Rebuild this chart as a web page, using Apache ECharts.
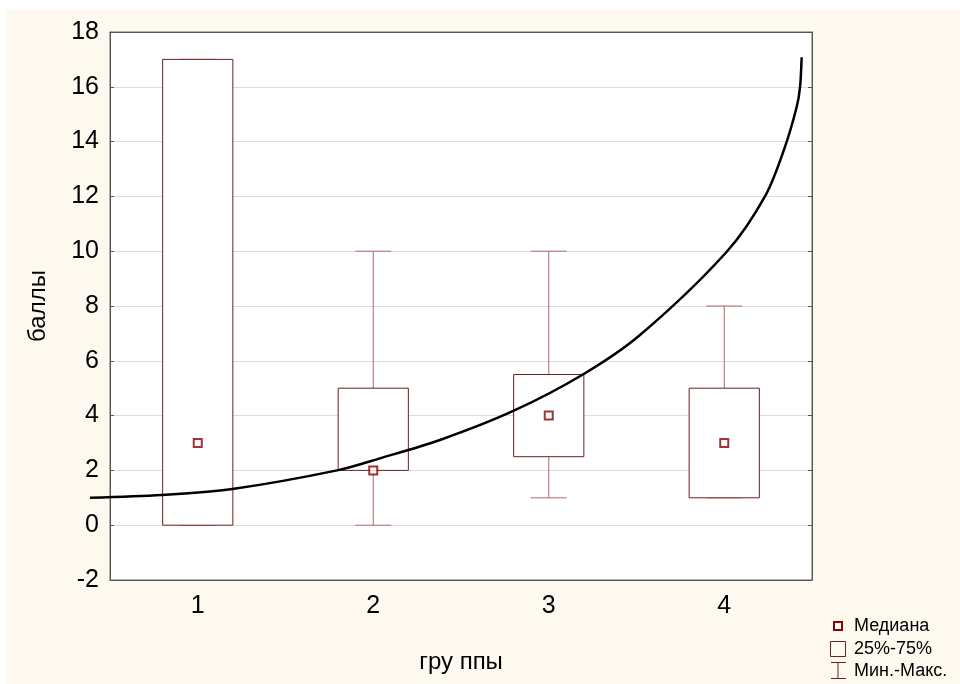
<!DOCTYPE html>
<html>
<head>
<meta charset="utf-8">
<script src="https://cdn.jsdelivr.net/npm/echarts@6/dist/echarts.min.js"></script>
<style>
html,body{margin:0;padding:0;background:#fff;}
#chart{width:960px;height:684px;}
</style>
</head>
<body>
<div id="chart"></div>
<script>
// ---- data ----
const categories = ['1', '2', '3', '4'];
const minVals    = [0, 0, 1, 1];
const q1Vals     = [0, 2, 2.5, 1];
const medianVals = [3, 2, 4, 3];
const q3Vals     = [17, 5, 5.5, 5];
const maxVals    = [17, 10, 10, 8];
// fitted curve (x in group units, y in баллы)
const curveX = [0.386, 0.795, 1.197, 1.801, 2.038, 2.380, 2.798, 3.197, 3.520, 4.014, 4.236, 4.346, 4.413, 4.432, 4.441];
const curveY = [1.00, 1.10, 1.32, 2.01, 2.44, 3.11, 4.17, 5.51, 6.94, 9.98, 12.05, 13.81, 15.27, 16.00, 17.08];
const yMin = -2, yMax = 18, yStep = 2;
const legendLabels = ['Медиана', '25%-75%', 'Мин.-Макс.'];
const xName = 'гру ппы';
const yName = 'баллы';

const FONT = 'Liberation Sans, Arial, sans-serif';
const boxColor = '#6e1f1f';
const whiskerColor = '#b26a6a';
const medColor = '#8b0000';

const chart = echarts.init(document.getElementById('chart'), null, {renderer: 'canvas'});

const boxData = categories.map((c, i) => [i, minVals[i], q1Vals[i], medianVals[i], q3Vals[i], maxVals[i]]);

function renderBox(params, api) {
  const i = api.value(0);
  const cx = api.coord([i, 0])[0];
  const band = api.size([1, 0])[0];
  const bw = band * 0.4, cw = band * 0.205;
  const yMn = api.coord([i, api.value(1)])[1];
  const yQ1 = api.coord([i, api.value(2)])[1];
  const yQ3 = api.coord([i, api.value(4)])[1];
  const yMx = api.coord([i, api.value(5)])[1];
  const wStyle = {stroke: whiskerColor, lineWidth: 1};
  return {
    type: 'group',
    children: [
      {type: 'line', shape: {x1: cx, y1: yQ3, x2: cx, y2: yMx}, style: wStyle},
      {type: 'line', shape: {x1: cx, y1: yQ1, x2: cx, y2: yMn}, style: wStyle},
      {type: 'line', shape: {x1: cx - cw / 2, y1: yMx, x2: cx + cw / 2, y2: yMx}, style: wStyle},
      {type: 'line', shape: {x1: cx - cw / 2, y1: yMn, x2: cx + cw / 2, y2: yMn}, style: wStyle},
      {type: 'rect', shape: {x: cx - bw / 2, y: yQ3, width: bw, height: yQ1 - yQ3},
       style: {fill: '#fff', stroke: boxColor, lineWidth: 1}}
    ]
  };
}

// grid geometry
const gLeft = 110, gTop = 32, gW = 702, gH = 548;
const band = gW / categories.length;
const curveMin = 0.386, curveMax = 4.5;
const g2Left = gLeft - (0.5 - curveMin) * band;
const g2W = (curveMax - curveMin) * band;

const lx = 838, ly = [626, 649, 671];

const option = {
  backgroundColor: '#ffffff',
  animation: false,
  graphic: [
    {type: 'rect', z: -10, silent: true, shape: {x: 7, y: 10, width: 960, height: 690}, style: {fill: '#fdf9ee'}},
    // legend
    {type: 'rect', z: 10, shape: {x: lx - 4, y: ly[0] - 4, width: 8, height: 8}, style: {fill: '#fff', stroke: medColor, lineWidth: 2}},
    {type: 'rect', z: 10, shape: {x: 830.5, y: 641.5, width: 15, height: 15}, style: {fill: 'none', stroke: boxColor, lineWidth: 1}},
    {type: 'line', z: 10, shape: {x1: 838, y1: 662, x2: 838, y2: 679}, style: {stroke: boxColor, lineWidth: 1}},
    {type: 'line', z: 10, shape: {x1: 831, y1: 662.5, x2: 846, y2: 662.5}, style: {stroke: boxColor, lineWidth: 1}},
    {type: 'line', z: 10, shape: {x1: 831, y1: 678.5, x2: 846, y2: 678.5}, style: {stroke: boxColor, lineWidth: 1}},
    {type: 'text', z: 10, x: 854, y: ly[0], style: {text: legendLabels[0], font: '18px ' + FONT, fill: '#000', textVerticalAlign: 'middle'}},
    {type: 'text', z: 10, x: 854, y: ly[1], style: {text: legendLabels[1], font: '18px ' + FONT, fill: '#000', textVerticalAlign: 'middle'}},
    {type: 'text', z: 10, x: 854, y: ly[2], style: {text: legendLabels[2], font: '18px ' + FONT, fill: '#000', textVerticalAlign: 'middle'}}
  ],
  grid: [
    {left: gLeft, top: gTop, width: gW, height: gH, show: true, backgroundColor: '#ffffff', borderColor: '#666', borderWidth: 1},
    {left: g2Left, top: gTop, width: g2W, height: gH, show: false}
  ],
  xAxis: [
    {type: 'category', gridIndex: 0, data: categories, position: 'bottom', boundaryGap: true,
     axisLine: {onZero: false, lineStyle: {color: '#555'}},
     axisTick: {inside: true, alignWithLabel: true, length: 5, lineStyle: {color: '#555'}},
     axisLabel: {fontSize: 25, fontFamily: FONT, color: '#000', margin: 14},
     name: xName, nameLocation: 'middle', nameGap: 70,
     nameTextStyle: {fontSize: 24, fontFamily: FONT, color: '#000'}},
    {type: 'value', gridIndex: 1, min: curveMin, max: curveMax, show: false},
    {type: 'category', gridIndex: 0, data: categories, position: 'top', boundaryGap: true,
     axisLine: {onZero: false, lineStyle: {color: '#555'}},
     axisTick: {inside: true, alignWithLabel: true, length: 5, lineStyle: {color: '#555'}},
     axisLabel: {show: false}}
  ],
  yAxis: [
    {type: 'value', gridIndex: 0, min: yMin, max: yMax, interval: yStep, position: 'left',
     axisLine: {show: true, onZero: false, lineStyle: {color: '#555'}},
     axisTick: {show: true, inside: true, length: 4, lineStyle: {color: '#555'}},
     axisLabel: {fontSize: 25, fontFamily: FONT, color: '#000', margin: 11},
     splitLine: {lineStyle: {color: '#dcdcdc', width: 1}},
     name: yName, nameLocation: 'middle', nameGap: 60, nameRotate: 90,
     nameTextStyle: {fontSize: 24, fontFamily: FONT, color: '#000'}},
    {type: 'value', gridIndex: 0, min: yMin, max: yMax, interval: yStep, position: 'right',
     axisLine: {show: true, onZero: false, lineStyle: {color: '#555'}},
     axisTick: {show: true, inside: true, length: 4, lineStyle: {color: '#555'}},
     axisLabel: {show: false}, splitLine: {show: false}},
    {type: 'value', gridIndex: 1, min: yMin, max: yMax, show: false}
  ],
  series: [
    {type: 'custom', xAxisIndex: 0, yAxisIndex: 0, renderItem: renderBox, data: boxData, z: 3},
    {type: 'scatter', xAxisIndex: 0, yAxisIndex: 0, data: medianVals, symbol: 'rect', symbolSize: 8,
     itemStyle: {color: '#fff', borderColor: medColor, borderWidth: 2}, z: 5},
    {type: 'line', xAxisIndex: 1, yAxisIndex: 2, data: curveX.map((x, i) => [x, curveY[i]]),
     smooth: 0.3, symbol: 'none', clip: false,
     lineStyle: {color: '#000', width: 2.5}, z: 6}
  ]
};
chart.setOption(option);
</script>
</body>
</html>
